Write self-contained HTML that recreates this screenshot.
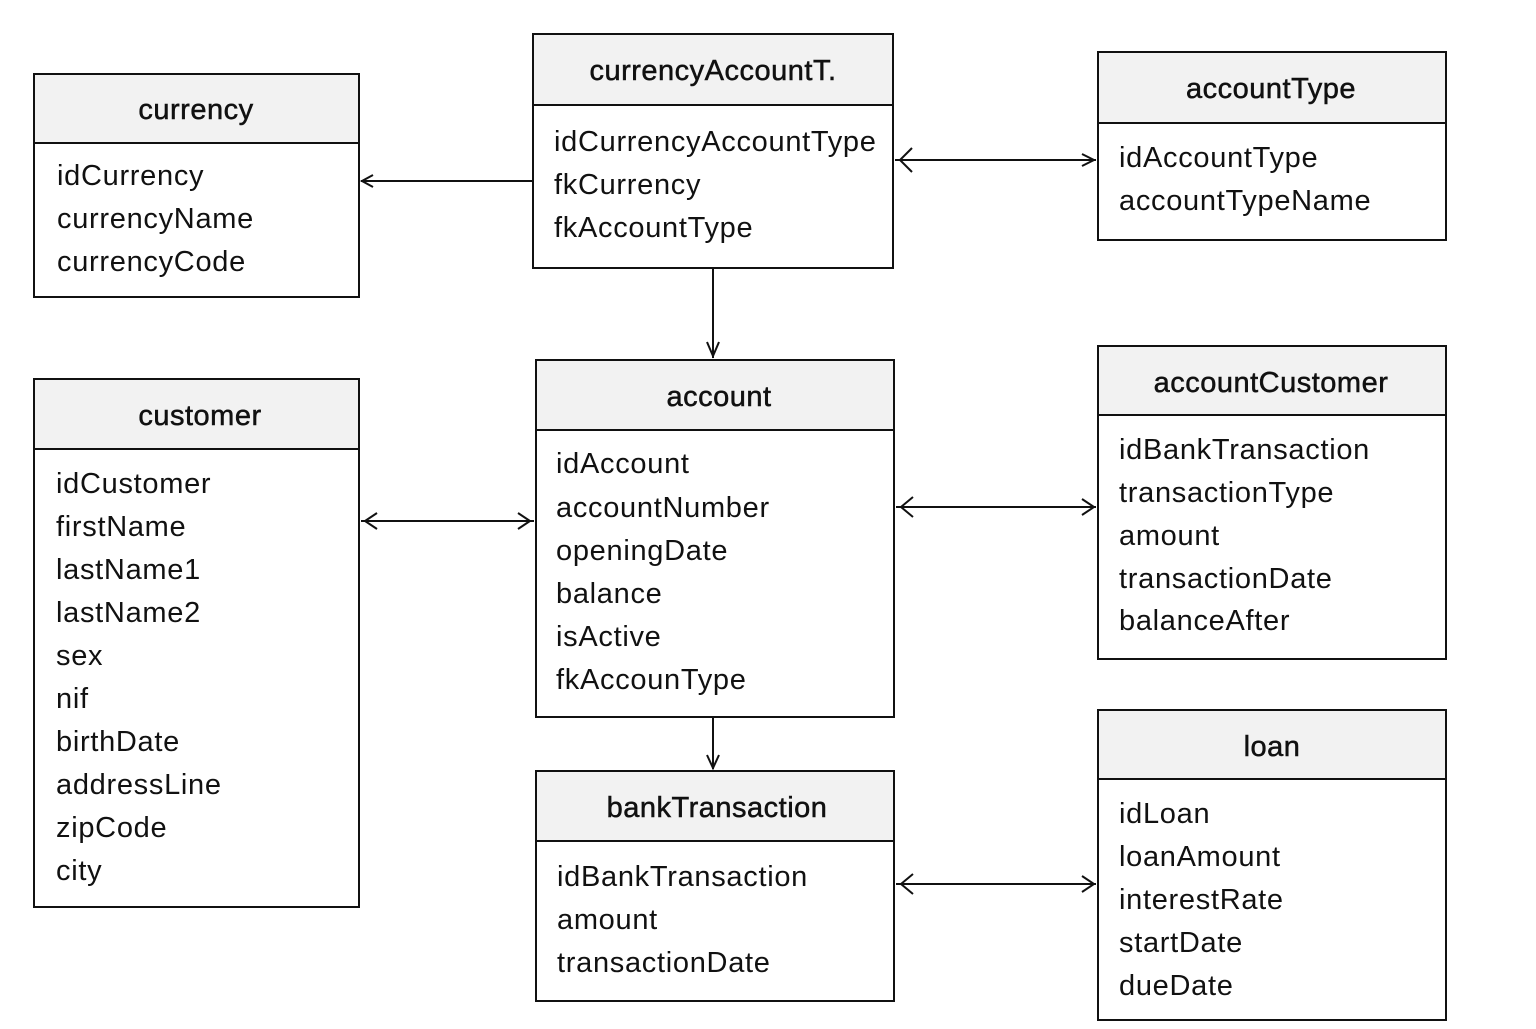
<!DOCTYPE html>
<html><head><meta charset="utf-8"><style>body{margin:0;background:#fff}</style></head><body>
<svg width="1536" height="1024" xmlns="http://www.w3.org/2000/svg" font-family="Liberation Sans, DejaVu Sans, sans-serif">
<rect width="1536" height="1024" fill="#fff"/>
<g stroke="#111" stroke-width="2" fill="none">
<rect x="34" y="74" width="325" height="69" fill="#f2f2f2"/><rect x="34" y="74" width="325" height="223"/>
<rect x="533" y="34" width="360" height="71" fill="#f2f2f2"/><rect x="533" y="34" width="360" height="234"/>
<rect x="1098" y="52" width="348" height="71" fill="#f2f2f2"/><rect x="1098" y="52" width="348" height="188"/>
<rect x="34" y="379" width="325" height="70" fill="#f2f2f2"/><rect x="34" y="379" width="325" height="528"/>
<rect x="536" y="360" width="358" height="70" fill="#f2f2f2"/><rect x="536" y="360" width="358" height="357"/>
<rect x="1098" y="346" width="348" height="69" fill="#f2f2f2"/><rect x="1098" y="346" width="348" height="313"/>
<rect x="536" y="771" width="358" height="70" fill="#f2f2f2"/><rect x="536" y="771" width="358" height="230"/>
<rect x="1098" y="710" width="348" height="69" fill="#f2f2f2"/><rect x="1098" y="710" width="348" height="310"/>
<line x1="533" y1="181" x2="361" y2="181"/><polyline points="373,175 362,181 373,187"/>
<line x1="895" y1="160" x2="1096" y2="160"/><polyline points="912,148 900,160 912,172"/><polyline points="1082,154 1094,160 1082,166"/>
<line x1="713" y1="268" x2="713" y2="358"/><polyline points="707,342 713,356 719,342"/>
<line x1="361" y1="521" x2="534" y2="521"/><polyline points="377,513 365,521 377,529"/><polyline points="518,513 530,521 518,529"/>
<line x1="896" y1="507" x2="1096" y2="507"/><polyline points="913,497 901,507 913,517"/><polyline points="1082,499 1094,507 1082,515"/>
<line x1="713" y1="717" x2="713" y2="769"/><polyline points="707,755 713,768 719,755"/>
<line x1="896" y1="884" x2="1096" y2="884"/><polyline points="913,874 901,884 913,894"/><polyline points="1082,876 1094,884 1082,892"/>
</g>
<g fill="#111" font-size="29" text-anchor="middle" stroke="#111" stroke-width="0.5" letter-spacing="0.5">
<text x="196" y="119">currency</text>
<text x="713" y="80">currencyAccountT.</text>
<text x="1271" y="98">accountType</text>
<text x="200" y="425">customer</text>
<text x="719" y="406">account</text>
<text x="1271" y="392">accountCustomer</text>
<text x="717" y="817">bankTransaction</text>
<text x="1272" y="756">loan</text>
</g>
<g fill="#111" font-size="29" letter-spacing="0.7">
<text x="57" y="185">idCurrency</text><text x="57" y="228">currencyName</text><text x="57" y="271">currencyCode</text>
<text x="554" y="151">idCurrencyAccountType</text><text x="554" y="194">fkCurrency</text><text x="554" y="237">fkAccountType</text>
<text x="1119" y="167">idAccountType</text><text x="1119" y="210">accountTypeName</text>
<text x="56" y="493">idCustomer</text><text x="56" y="536">firstName</text><text x="56" y="579">lastName1</text><text x="56" y="622">lastName2</text><text x="56" y="665">sex</text><text x="56" y="708">nif</text><text x="56" y="751">birthDate</text><text x="56" y="794">addressLine</text><text x="56" y="837">zipCode</text><text x="56" y="880">city</text>
<text x="556" y="473">idAccount</text><text x="556" y="517">accountNumber</text><text x="556" y="560">openingDate</text><text x="556" y="603">balance</text><text x="556" y="646">isActive</text><text x="556" y="689">fkAccounType</text>
<text x="1119" y="459">idBankTransaction</text><text x="1119" y="502">transactionType</text><text x="1119" y="545">amount</text><text x="1119" y="588">transactionDate</text><text x="1119" y="630">balanceAfter</text>
<text x="557" y="886">idBankTransaction</text><text x="557" y="929">amount</text><text x="557" y="972">transactionDate</text>
<text x="1119" y="823">idLoan</text><text x="1119" y="866">loanAmount</text><text x="1119" y="909">interestRate</text><text x="1119" y="952">startDate</text><text x="1119" y="995">dueDate</text>
</g>
</svg>
</body></html>
